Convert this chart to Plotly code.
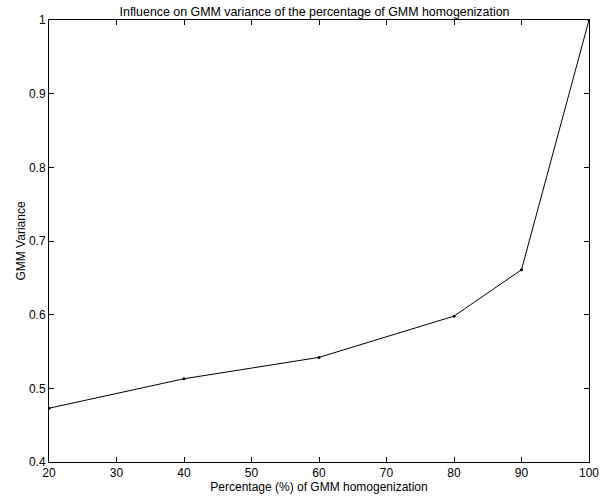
import plotly.graph_objects as go

percentages = [20, 40, 60, 80, 90, 100]
variance = [0.473, 0.513, 0.542, 0.598, 0.661, 1.0]
x_ticks = [20, 30, 40, 50, 60, 70, 80, 90, 100]
y_ticks = [0.4, 0.5, 0.6, 0.7, 0.8, 0.9, 1.0]
y_tick_text = ["0.4", "0.5", "0.6", "0.7", "0.8", "0.9", "1"]

fig = go.Figure()
fig.add_trace(go.Scatter(
    x=percentages, y=variance, mode="lines+markers",
    line=dict(color="black", width=1),
    marker=dict(color="black", size=3),
    showlegend=False,
))

FONT = "Liberation Sans, Arial"
axis_common = dict(
    showgrid=False, zeroline=False, showline=True, linecolor="black", linewidth=1,
    mirror="ticks", ticks="inside", ticklen=5, tickcolor="black",
    tickfont=dict(family=FONT, size=12, color="black"),
    ticklabeloverflow="allow",
)

fig.update_layout(
    width=610, height=500,
    margin=dict(l=49, r=11, t=20, b=38),
    paper_bgcolor="white", plot_bgcolor="white",
    font=dict(family=FONT, size=12, color="black"),
    title=dict(text="Influence on GMM variance of the percentage of GMM homogenization",
               x=0.5156, xanchor="center", y=0.976, yanchor="middle",
               font=dict(size=12.4)),
    xaxis=dict(range=[20, 100], tickvals=x_ticks,
               title=dict(text="Percentage (%) of GMM homogenization", standoff=0, font=dict(size=12)),
               **axis_common),
    yaxis=dict(range=[0.4, 1.0], tickvals=y_ticks, ticktext=y_tick_text,
               title=dict(text="GMM Variance", standoff=0, font=dict(size=12)),
               **axis_common),
)

fig.write_html("out.html", config={"displayModeBar": False},
               post_script="document.body.style.margin='0';")
